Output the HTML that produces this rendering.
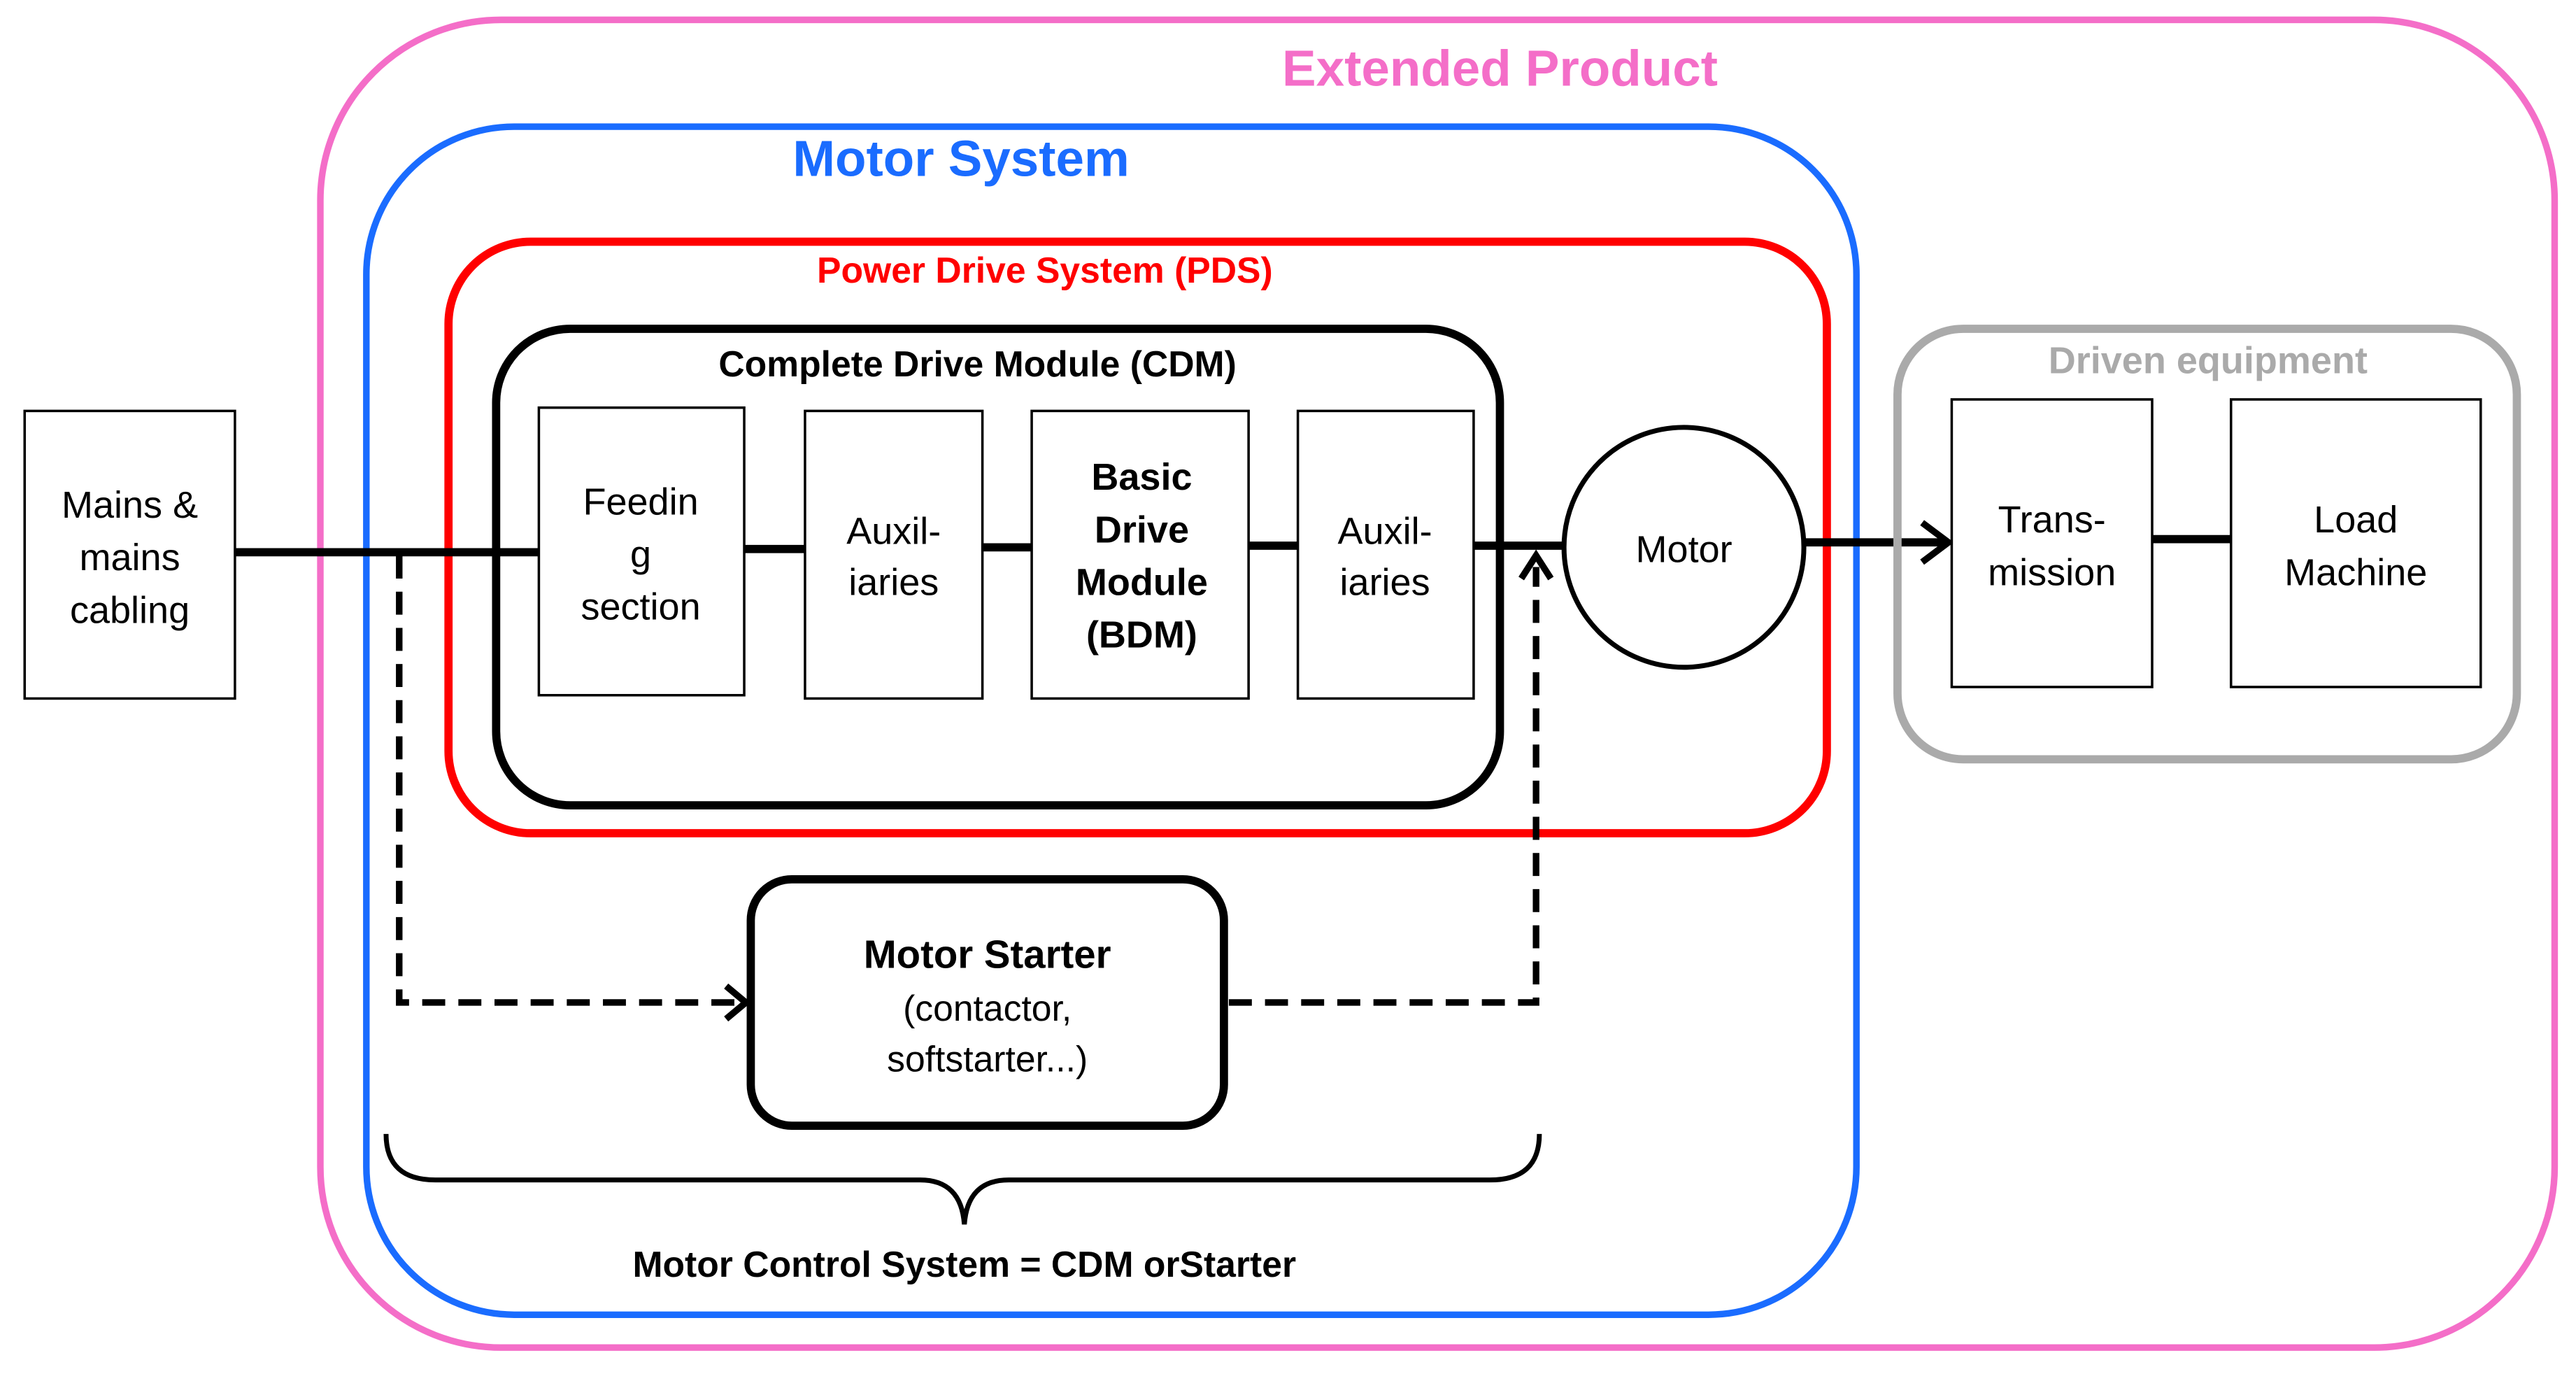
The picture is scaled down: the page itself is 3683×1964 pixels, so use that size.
<!DOCTYPE html>
<html><head><meta charset="utf-8"><style>html,body{margin:0;padding:0;background:#fff;}svg{display:block}</style></head>
<body>
<svg width="3683" height="1964" viewBox="0 0 1568 836" xmlns="http://www.w3.org/2000/svg" font-family="Liberation Sans, Arial, sans-serif">
<rect x="0" y="0" width="1568" height="836" fill="#fff"/>
<!-- Extended product -->
<rect x="195" y="12" width="1360" height="808" rx="110" fill="none" stroke="#f46ec8" stroke-width="4"/>
<text x="913" y="52" text-anchor="middle" font-size="31" font-weight="bold" fill="#f46ec8">Extended Product</text>
<!-- Motor system -->
<rect x="223" y="77" width="907" height="723" rx="90" fill="none" stroke="#1a6cff" stroke-width="4"/>
<text x="585" y="107" text-anchor="middle" font-size="31" font-weight="bold" fill="#1a6cff">Motor System</text>
<!-- PDS -->
<rect x="273" y="147" width="839" height="360" rx="50" fill="none" stroke="#ff0000" stroke-width="5"/>
<text x="636" y="172" text-anchor="middle" font-size="22" font-weight="bold" fill="#ff0000">Power Drive System (PDS)</text>
<!-- CDM -->
<rect x="302" y="200" width="611" height="290" rx="45" fill="none" stroke="#000" stroke-width="5"/>
<text x="595" y="229" text-anchor="middle" font-size="22" font-weight="bold">Complete Drive Module (CDM)</text>
<!-- main line -->
<g stroke="#000" stroke-width="5">
<line x1="143" y1="336" x2="328" y2="336"/>
<line x1="453" y1="334" x2="490" y2="334"/>
<line x1="598" y1="333" x2="628" y2="333"/>
<line x1="760" y1="332" x2="790" y2="332"/>
<line x1="897" y1="332" x2="952" y2="332"/>
<line x1="1098" y1="330" x2="1183" y2="330"/>
<line x1="1310" y1="328" x2="1358" y2="328"/>
</g>
<polyline points="1170,318 1186,330 1170,342" fill="none" stroke="#000" stroke-width="4"/>
<!-- boxes -->
<g fill="#fff" stroke="#000" stroke-width="1.5">
<rect x="15" y="250" width="128" height="175"/>
<rect x="328" y="248" width="125" height="175"/>
<rect x="490" y="250" width="108" height="175"/>
<rect x="628" y="250" width="132" height="175"/>
<rect x="790" y="250" width="107" height="175"/>
<rect x="1188" y="243" width="122" height="175"/>
<rect x="1358" y="243" width="152" height="175"/>
</g>
<circle cx="1025" cy="333" r="73" fill="#fff" stroke="#000" stroke-width="3"/>
<g font-size="23" text-anchor="middle" fill="#000">
<text x="79" y="315">Mains &amp;</text><text x="79" y="347">mains</text><text x="79" y="379">cabling</text>
<text x="390" y="313">Feedin</text><text x="390" y="345">g</text><text x="390" y="377">section</text>
<text x="544" y="331">Auxil-</text><text x="544" y="362">iaries</text>
<text x="843" y="331">Auxil-</text><text x="843" y="362">iaries</text>
<g font-weight="bold"><text x="695" y="298">Basic</text><text x="695" y="330">Drive</text><text x="695" y="362">Module</text><text x="695" y="394">(BDM)</text></g>
<text x="1025" y="342">Motor</text>
<text x="1249" y="324">Trans-</text><text x="1249" y="356">mission</text>
<text x="1434" y="324">Load</text><text x="1434" y="356">Machine</text>
</g>
<!-- Driven equipment -->
<rect x="1155" y="200" width="377" height="262" rx="40" fill="none" stroke="#aaaaaa" stroke-width="5"/>
<text x="1344" y="227" text-anchor="middle" font-size="23" font-weight="bold" fill="#aaaaaa">Driven equipment</text>
<!-- dashed -->
<g fill="none" stroke="#000" stroke-width="4" stroke-dasharray="14,8">
<polyline points="243,338 243,610 450,610"/>
<polyline points="748,610 935,610 935,345"/>
</g>
<polyline points="442,600 454,610 442,620" fill="none" stroke="#000" stroke-width="4"/>
<polyline points="926,352 935,338 944,352" fill="none" stroke="#000" stroke-width="4"/>
<!-- motor starter -->
<rect x="457" y="535" width="288" height="150" rx="25" fill="#fff" stroke="#000" stroke-width="5"/>
<text x="601" y="589" text-anchor="middle" font-size="24" font-weight="bold">Motor Starter</text>
<text x="601" y="621" text-anchor="middle" font-size="22">(contactor,</text>
<text x="601" y="652" text-anchor="middle" font-size="22">softstarter...)</text>
<!-- brace -->
<path d="M235,690 Q235,718 265,718 L560,718 Q585,718 587,745 Q589,718 614,718 L907,718 Q937,718 937,690" fill="none" stroke="#000" stroke-width="3"/>
<text x="587" y="777" text-anchor="middle" font-size="22" font-weight="bold">Motor Control System = CDM orStarter</text>
</svg>
</body></html>
